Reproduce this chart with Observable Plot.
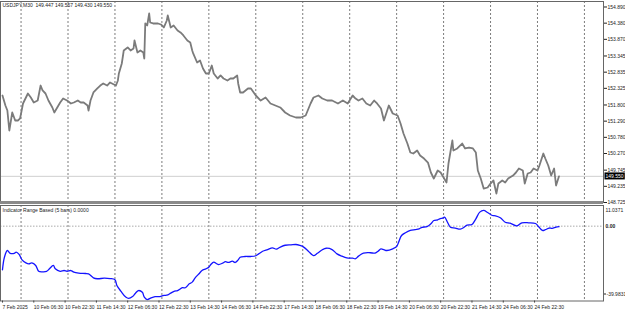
<!DOCTYPE html>
<html><head><meta charset="utf-8">
<script src="https://cdn.jsdelivr.net/npm/d3@7"></script>
<script src="https://cdn.jsdelivr.net/npm/@observablehq/plot@0.6"></script>
<style>
html,body{margin:0;padding:0;background:#fff;}
#chart{position:relative;width:625px;height:315px;overflow:hidden;background:#fff;font-family:"Liberation Sans",Arial,sans-serif;}
#main{position:absolute;left:0;top:0;}
#sep{position:absolute;left:0;top:201px;width:603px;height:3px;background:#8a8a8a;}
#ind{position:absolute;left:0;top:203px;}
</style></head><body>
<div id="chart"><div id="main"></div><div id="ind"></div><div id="sep"></div></div>
<script>
const symbolTitle = "USDJPY,M30  149.447 149.557 149.430 149.550";
const indicatorTitle = "Indicator Range Based (5 bars) 0.0000";
const timeLabels = ["7 Feb 2025","10 Feb 06:30","10 Feb 22:30","11 Feb 14:30","12 Feb 06:30","12 Feb 22:30","13 Feb 14:30","14 Feb 06:30","14 Feb 22:30","17 Feb 14:30","18 Feb 06:30","18 Feb 22:30","19 Feb 14:30","20 Feb 06:30","20 Feb 22:30","21 Feb 14:30","24 Feb 06:30","24 Feb 22:30"];
const labelBars = [0,32,64,96,128,160,192,224,256,288,320,352,384,416,448,480,512,544];
const gridBars = [20,68,116,164,212,260,308,356,404,452,500,548,596];
const priceTicks = [154.890,154.380,153.870,153.345,152.835,152.325,151.800,151.290,150.780,150.270,149.745,149.235,148.725];
const currentPrice = 149.550;
const priceBars = [1,4,6,8,11,14,17,19,22,27,30,33,37,40,42,45,48,52,54,57,60,63,67,71,74,78,81,84,88,89,91,94,98,101,104,108,111,115,117,119,120,123,125,129,132,135,136,139,142,145,146,147,149,151,152,155,160,163,166,169,170,173,176,180,183,186,190,193,195,196,200,203,206,209,212,215,217,221,224,227,231,234,237,241,242,244,247,252,255,260,265,270,275,280,285,290,295,301,306,311,316,319,324,328,333,338,344,349,354,359,362,365,369,373,377,381,384,388,391,396,400,405,408,411,415,418,421,425,428,432,436,439,442,446,449,452,455,457,461,462,466,471,474,478,482,485,487,490,493,497,500,503,506,508,512,515,518,523,526,529,533,535,538,541,544,548,550,554,556,559,562,565,567,570];
const priceValues = [152.099,151.784,151.626,150.995,151.563,151.311,151.311,151.374,151.847,152.162,152.036,151.878,151.941,152.414,152.257,152.162,151.941,151.721,151.563,151.721,151.878,152.004,151.941,151.847,151.878,151.941,151.878,151.878,151.784,151.626,151.941,152.194,152.320,152.414,152.478,152.414,152.509,152.446,152.414,152.572,152.793,153.108,153.518,153.613,153.518,153.581,153.834,153.455,153.518,153.455,153.266,154.370,154.307,154.685,154.401,154.370,154.370,154.338,154.244,154.464,154.622,154.244,154.307,154.149,154.086,153.991,153.834,153.770,153.518,153.424,153.140,153.203,152.951,152.793,152.793,153.045,152.793,152.635,152.730,152.635,152.572,152.635,152.635,152.730,152.478,152.194,152.194,152.320,152.320,152.099,151.941,152.036,151.847,151.784,151.721,151.563,151.468,151.405,151.405,151.468,151.847,152.036,152.099,152.004,151.941,151.941,151.847,151.941,151.847,152.099,152.004,151.941,152.004,151.847,151.784,151.941,151.847,151.689,151.311,151.784,151.531,151.468,151.216,150.901,150.585,150.301,150.270,150.365,150.207,150.112,149.986,149.671,149.482,149.734,149.671,149.513,149.355,149.955,150.680,150.365,150.428,150.585,150.428,150.459,150.428,150.301,149.734,149.482,149.166,149.198,149.324,149.419,149.008,149.324,149.419,149.355,149.482,149.576,149.671,149.797,149.734,149.324,149.639,149.671,149.797,149.734,149.892,150.270,150.112,149.892,149.576,149.797,149.261,149.550];
const indBars = [1,3,6,9,13,15,18,21,25,28,31,35,38,42,46,49,53,55,60,64,67,71,74,79,86,89,94,98,105,111,116,118,122,127,130,134,137,140,144,146,149,153,157,162,166,169,173,177,180,185,188,192,195,198,202,205,209,212,214,217,220,222,226,229,232,236,239,242,244,249,255,260,263,267,272,277,281,285,290,296,301,305,309,314,319,323,328,332,338,343,348,353,359,362,365,370,377,382,385,388,391,394,400,404,406,409,413,418,423,427,430,435,439,442,446,448,451,453,456,459,464,469,473,476,481,485,489,493,497,502,505,510,515,520,527,532,539,546,549,553,556,560,563,567,570];
const indValues = [-23.3,-16.6,-13.0,-14.5,-14.5,-13.9,-15.1,-18.0,-19.6,-20.1,-19.6,-21.0,-24.1,-24.4,-24.2,-22.8,-21.0,-22.8,-24.1,-23.7,-24.1,-23.7,-24.6,-25.1,-25.3,-25.5,-27.6,-28.1,-27.8,-28.0,-28.6,-31.7,-34.7,-37.9,-38.6,-37.6,-35.8,-34.4,-35.3,-37.9,-39.2,-38.3,-37.7,-37.6,-37.0,-36.9,-35.8,-34.7,-34.4,-32.9,-32.9,-30.8,-29.9,-27.6,-25.4,-23.7,-22.8,-21.9,-20.5,-19.2,-20.1,-20.5,-19.8,-19.0,-19.4,-18.7,-19.4,-18.0,-16.6,-16.2,-16.2,-15.8,-14.8,-13.4,-12.5,-11.6,-12.3,-11.2,-10.2,-10.0,-9.8,-10.3,-11.2,-13.5,-15.7,-14.5,-12.6,-11.8,-12.5,-14.8,-16.0,-16.9,-17.1,-17.4,-16.0,-14.4,-14.2,-14.4,-13.4,-12.1,-12.6,-13.0,-12.1,-10.9,-8.6,-5.0,-3.5,-2.3,-1.8,-1.4,-0.6,-0.2,1.3,3.0,3.4,3.9,4.3,4.8,2.1,-0.6,-1.0,-1.6,-0.6,0.5,0.9,3.9,7.5,8.4,7.3,5.7,5.5,4.5,2.1,1.6,0.2,1.8,1.8,1.4,-0.2,-2.3,-1.9,-1.0,-1.2,-0.5,-0.3];
const indMax = 11.0371, indMin = -39.9831;

const xDomain = [-1.02, 615.5];
const font = "'Liberation Sans', Arial, sans-serif";
const priceData = priceBars.map((b, i) => ({bar: b, price: priceValues[i]}));
const indData = indBars.map((b, i) => ({bar: b, v: indValues[i]}));
const grid = {stroke: "#5a5a5a", strokeDasharray: "2,2", strokeWidth: 0.8};

const main = Plot.plot({
  width: 625, height: 203,
  marginLeft: 0, marginRight: 22, marginTop: 1, marginBottom: 1,
  x: {domain: xDomain, axis: null},
  y: {domain: [148.725, 155.063], axis: null},
  style: {fontFamily: font, fontSize: "5px", color: "#222", background: "transparent", overflow: "visible"},
  marks: [
    Plot.ruleX(gridBars, grid),
    Plot.ruleY([currentPrice], {stroke: "#cfcfcf", strokeWidth: 1}),
    Plot.line(priceData, {x: "bar", y: "price", stroke: "#7b7b7b", strokeWidth: 1.8}),
    Plot.axisY(priceTicks, {anchor: "right", label: null, tickSize: 3, tickPadding: 1, tickFormat: d => d.toFixed(3), fontSize: 5}),
    Plot.axisY([currentPrice], {anchor: "right", label: null, tickSize: 0, tickPadding: 2, tickFormat: d => d.toFixed(3), fontSize: 5}),
    Plot.frame({stroke: "#666"}),
    Plot.text([symbolTitle], {frameAnchor: "top-left", dx: 2, dy: 2, fontSize: 5, fill: "#222"})
  ]
});
document.getElementById("main").appendChild(main);

// black box behind the current price label
const curLabel = currentPrice.toFixed(3);
d3.select(main).selectAll("text").each(function() {
  if (this.textContent !== curLabel || this.dataset.done) return;
  const bb = this.getBBox();
  const r = document.createElementNS("http://www.w3.org/2000/svg", "rect");
  r.setAttribute("x", bb.x - 1); r.setAttribute("y", bb.y - 0.5);
  r.setAttribute("width", bb.width + 2); r.setAttribute("height", bb.height + 1);
  const tr = this.getAttribute("transform");
  if (tr) r.setAttribute("transform", tr);
  r.setAttribute("fill", "#000");
  this.parentNode.insertBefore(r, this);
  this.setAttribute("fill", "#fff");
  this.dataset.done = "1";
});

const ind = Plot.plot({
  width: 625, height: 112,
  marginLeft: 0, marginRight: 22, marginTop: 2, marginBottom: 14.5,
  x: {domain: xDomain, axis: null},
  y: {domain: [indMin, indMax], axis: null},
  style: {fontFamily: font, fontSize: "5px", color: "#222", background: "transparent", overflow: "visible"},
  marks: [
    Plot.ruleX(gridBars, grid),
    Plot.ruleY([0], {stroke: "#aaa", strokeDasharray: "1.5,1.5"}),
    Plot.line(indData, {x: "bar", y: "v", stroke: "#1414ff", strokeWidth: 1.3, curve: "catmull-rom"}),
    Plot.axisX(labelBars, {anchor: "bottom", label: null, tickSize: 2, tickPadding: 2, textAnchor: "start", dx: 1, fontSize: 5,
      tickFormat: d => timeLabels[labelBars.indexOf(d)]}),
    Plot.axisY([0], {anchor: "right", label: null, tickSize: 0, tickPadding: 2, tickFormat: () => "0.00", fontSize: 5, fontWeight: "bold"}),
    Plot.axisY([indMax], {anchor: "right", label: null, tickSize: 0, tickPadding: 2, tickFormat: d => d.toFixed(4), fontSize: 5, dy: 4.5}),
    Plot.axisY([indMin], {anchor: "right", label: null, tickSize: 2, tickPadding: 1, tickFormat: d => d.toFixed(4), fontSize: 5, dy: -7}),
    Plot.frame({stroke: "#666"}),
    Plot.text([indicatorTitle], {frameAnchor: "top-left", dx: 2, dy: 3, fontSize: 5, fill: "#222"})
  ]
});
document.getElementById("ind").appendChild(ind);
</script>
</body></html>
